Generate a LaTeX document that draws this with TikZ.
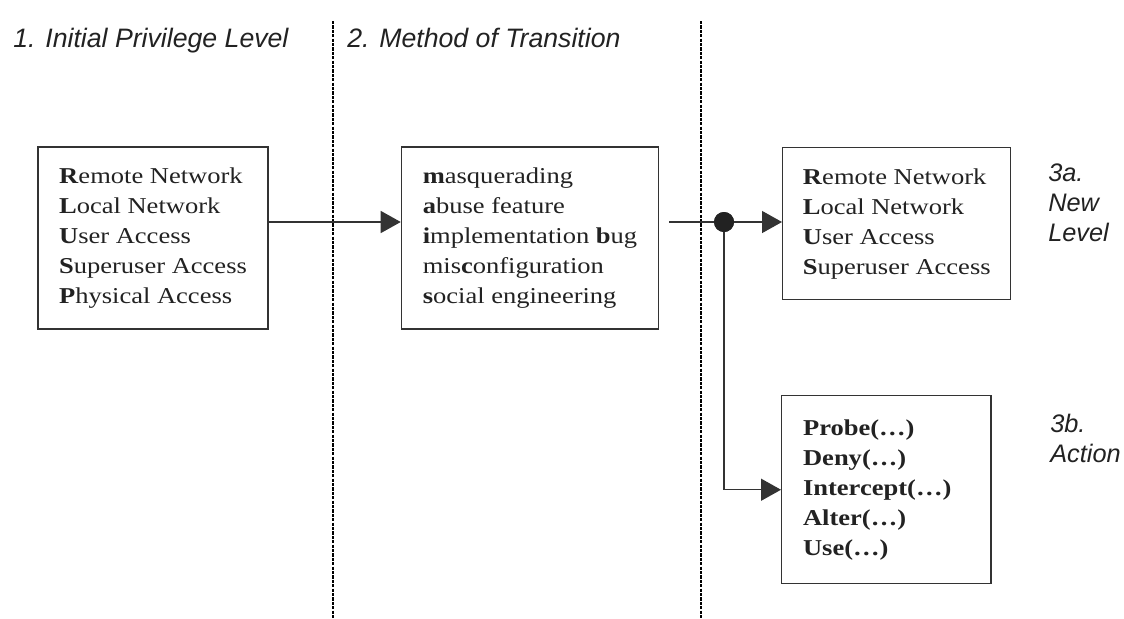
\documentclass[tikz,border=0pt]{standalone}
\usepackage{fontspec}
\newfontfamily\boxfont{Liberation Serif}[FakeStretch=1.17]
\newfontfamily\labelfont{Liberation Sans}
\usetikzlibrary{arrows.meta,positioning}
\definecolor{ink}{HTML}{222222}
\definecolor{rule}{HTML}{333333}

\begin{document}
\begin{tikzpicture}[
  x=0.75pt, y=-0.75pt,
  box/.style={
    rectangle,
    draw=rule,
    line width=1.1pt,
    align=left,
    text=ink,
    font=\boxfont\fontsize{17}{22.5}\selectfont
  },
  heading/.style={
    anchor=base west,
    inner sep=0pt,
    text=ink,
    align=left,
    font=\labelfont\itshape\fontsize{20}{22.5}\selectfont
  },
  flow/.style={
    draw=rule,
    line width=1pt,
    -{Triangle[length=15pt,width=16.5pt]}
  },
  joint/.style={
    circle,
    fill=ink,
    minimum size=15pt,
    inner sep=0pt
  },
  divider/.style={
    draw=black,
    line width=2.2pt,
    dash pattern=on 2.4pt off 0.9pt
  }
]
\useasboundingbox (0,0) rectangle (1124,618);
\fill[white] (0,0) rectangle (1124,618);

% Column headings
\node[heading] (initial) at (13,47) {1. Initial Privilege Level};
\node[heading] (method) at (347,47) {2. Method of Transition};

% Column dividers
\draw[divider] (333,21) -- (333,618);
\draw[divider] (701,21) -- (701,618);

% 1. Initial level
\node[box, minimum width=172.5pt, minimum height=136.5pt] (privilege) at (153,238)
  {\textbf{R}emote Network\\
   \textbf{L}ocal Network\\
   \textbf{U}ser Access\\
   \textbf{S}uperuser Access\\
   \textbf{P}hysical Access};

% 2. Transition
\node[box, minimum width=192.75pt, minimum height=136.5pt, right=99pt of privilege] (transition)
  {\textbf{m}asquerading\\
   \textbf{a}buse feature\\
   \textbf{i}mplementation \textbf{b}ug\\
   mis\textbf{c}onfiguration\\
   \textbf{s}ocial engineering};

% 3a. New level
\node[box, minimum width=171pt, minimum height=114pt, anchor=north west] (newlevel) at (782,147)
  {\textbf{R}emote Network\\
   \textbf{L}ocal Network\\
   \textbf{U}ser Access\\
   \textbf{S}uperuser Access};
\node[heading, font=\labelfont\itshape\fontsize{19}{22.5}\selectfont] (newlabel) at (1048,241)
  {3a.\\New\\Level};

% 3b. Action
\node[box, inner xsep=16pt, text width=125pt, minimum height=141pt, anchor=north west,
  font=\boxfont\bfseries\fontsize{17}{22.5}\selectfont] (action) at (781,395)
  {Probe(\ldots)\\
   Deny(\ldots)\\
   Intercept(\ldots)\\
   Alter(\ldots)\\
   Use(\ldots)};
\node[heading, font=\labelfont\itshape\fontsize{19}{22.5}\selectfont] (actionlabel) at (1050,462)
  {3b.\\Action};

% Connections
\node[joint] (junction) at (724,222) {};
\draw[flow] (privilege.east |- junction) -- (transition.west |- junction);
\draw[flow, shorten <=7.5pt] (transition.east |- junction) -- (newlevel.west |- junction);
\draw[flow] (junction.center) |- (action.west);
\node[joint] at (junction) {};

\end{tikzpicture}
\end{document}
